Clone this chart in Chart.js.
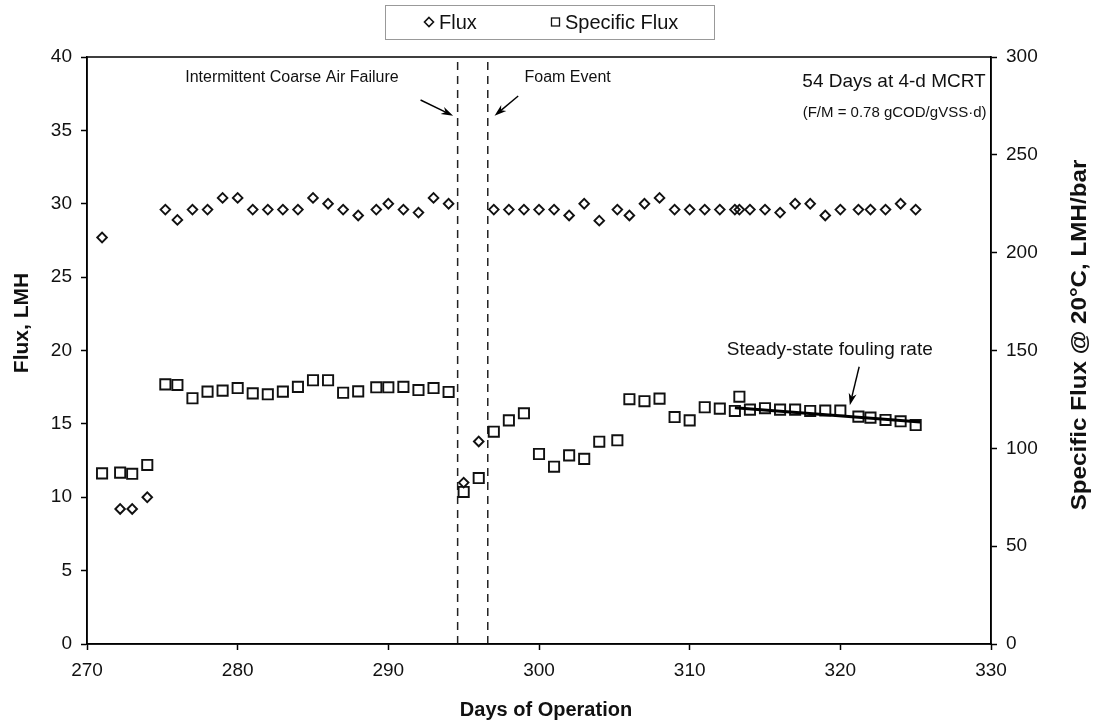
<!DOCTYPE html>
<html>
<head>
<meta charset="utf-8">
<script src="https://cdn.jsdelivr.net/npm/chart.js@4/dist/chart.umd.min.js"></script>
<style>
  html, body { margin: 0; padding: 0; background: #fff; }
  #wrap { width: 1099px; height: 726px; }
</style>
</head>
<body>
<div id="wrap"><canvas id="chart" width="1099" height="726"></canvas></div>
<script>
// days of operation (shared by both series)
const days = [271, 272.2, 273, 274, 275.2, 276, 277, 278, 279, 280, 281, 282, 283, 284, 285, 286, 287, 288, 289.2, 290,
  291, 292, 293, 294, 295, 296, 297, 298, 299, 300, 301, 302, 303, 304, 305.2, 306, 307, 308, 309, 310,
  311, 312, 313, 313.3, 314, 315, 316, 317, 318, 319, 320, 321.2, 322, 323, 324, 325];

// Flux, LMH (left axis)
const fluxLMH = [27.7, 9.2, 9.2, 10.0, 29.6, 28.9, 29.6, 29.6, 30.4, 30.4, 29.6, 29.6, 29.6, 29.6, 30.4, 30.0, 29.6, 29.2, 29.6, 30.0,
  29.6, 29.4, 30.4, 30.0, 11.0, 13.8, 29.6, 29.6, 29.6, 29.6, 29.6, 29.2, 30.0, 28.85, 29.6, 29.2, 30.0, 30.4, 29.6, 29.6,
  29.6, 29.6, 29.6, 29.6, 29.6, 29.6, 29.4, 30.0, 30.0, 29.2, 29.6, 29.6, 29.6, 29.6, 30.0, 29.6];

// Specific flux @ 20C, LMH/bar (right axis)
const specificFlux = [87.2, 87.6, 87.0, 91.5, 132.7, 132.4, 125.6, 129.0, 129.5, 130.8, 128.1, 127.6, 129.0, 131.4, 134.8, 134.8, 128.4, 129.1, 131.2, 131.2,
  131.4, 129.8, 130.8, 128.8, 77.7, 84.8, 108.5, 114.3, 117.9, 97.1, 90.6, 96.4, 94.6, 103.4, 104.1, 125.1, 124.1, 125.4, 116.0, 114.3,
  121.0, 120.3, 119.1, 126.4, 119.8, 120.5, 119.8, 119.8, 119.1, 119.3, 119.3, 116.2, 115.7, 114.5, 113.8, 111.9];

// steady-state fouling rate trend (right axis)
const trendDays = [313, 325.3];
const trendSpecific = [120.8, 113.5];

// event markers (dashed verticals)
const eventDays = [294.6, 296.6];

// axis ranges
const xRange = [270, 330, 10];
const fluxRange = [0, 40, 5];
const specRange = [0, 300, 50];

const ink = '#111';
const font = '"Liberation Sans", Arial, sans-serif';

const toPts = (xs, ys) => xs.map((x, i) => ({ x: x, y: ys[i] }));

// annotations in data coordinates
const notes = [
  { text: 'Intermittent Coarse Air Failure', x: 283.6, y: 38.57, axis: 'y', size: 16, align: 'center' },
  { text: 'Foam Event', x: 301.9, y: 38.57, axis: 'y', size: 16, align: 'center' },
  { text: '54 Days at 4-d MCRT', x: 329.65, y: 38.32, axis: 'y', size: 19, align: 'right' },
  { text: '(F/M = 0.78 gCOD/gVSS\u00b7d)', x: 329.7, y: 36.17, axis: 'y', size: 15, align: 'right' },
  { text: 'Steady-state fouling rate', x: 319.3, y: 150.4, axis: 'y2', size: 19, align: 'center' }
];
const arrows = [
  { from: [292.14, 37.07], to: [294.3, 36.0], axis: 'y' },
  { from: [298.62, 37.34], to: [297.05, 36.0], axis: 'y' },
  { from: [321.25, 141.7], to: [320.63, 122.0], axis: 'y2' }
];

function drawArrow(ctx, x1, y1, x2, y2) {
  const ang = Math.atan2(y2 - y1, x2 - x1);
  const len = 12, half = 4;
  const c = Math.cos(ang), s = Math.sin(ang);
  ctx.beginPath();
  ctx.moveTo(x1, y1);
  ctx.lineTo(x2 - c * len * 0.6, y2 - s * len * 0.6);
  ctx.stroke();
  ctx.beginPath();
  ctx.moveTo(x2, y2);
  ctx.lineTo(x2 - c * len - s * half, y2 - s * len + c * half);
  ctx.lineTo(x2 - c * len * 0.7, y2 - s * len * 0.7);
  ctx.lineTo(x2 - c * len + s * half, y2 - s * len - c * half);
  ctx.closePath();
  ctx.fill();
}

const overlay = {
  id: 'overlay',
  afterDraw(chart) {
    const { ctx, chartArea: a, scales } = chart;
    ctx.save();
    ctx.strokeStyle = '#000';
    ctx.fillStyle = '#000';
    ctx.lineWidth = 1.5;
    ctx.strokeRect(a.left, a.top, a.right - a.left, a.bottom - a.top);

    // notes
    ctx.textBaseline = 'middle';
    notes.forEach(n => {
      ctx.font = n.size + 'px ' + font;
      ctx.textAlign = n.align;
      ctx.fillStyle = '#111';
      ctx.fillText(n.text, scales.x.getPixelForValue(n.x), scales[n.axis].getPixelForValue(n.y));
    });

    // arrows
    ctx.lineWidth = 1.4;
    ctx.fillStyle = '#000';
    arrows.forEach(r => {
      const ys = scales[r.axis];
      drawArrow(ctx, scales.x.getPixelForValue(r.from[0]), ys.getPixelForValue(r.from[1]),
        scales.x.getPixelForValue(r.to[0]), ys.getPixelForValue(r.to[1]));
    });

    // legend
    ctx.lineWidth = 1;
    ctx.strokeStyle = '#999';
    ctx.strokeRect(385.5, 5.5, 329, 34);
    ctx.strokeStyle = ink;
    ctx.lineWidth = 1.6;
    ctx.beginPath();
    ctx.moveTo(429, 17.5); ctx.lineTo(433.5, 22); ctx.lineTo(429, 26.5); ctx.lineTo(424.5, 22); ctx.closePath();
    ctx.stroke();
    ctx.lineWidth = 1.3;
    ctx.strokeRect(551.5, 18, 8, 8);
    ctx.font = '20px ' + font;
    ctx.fillStyle = '#111';
    ctx.textAlign = 'left';
    ctx.fillText('Flux', 439, 23);
    ctx.fillText('Specific Flux', 565, 23);

    // axis titles
    ctx.font = 'bold 20px ' + font;
    ctx.textAlign = 'center';
    ctx.fillText('Days of Operation', 546, 710);
    ctx.save();
    ctx.translate(22, 323);
    ctx.rotate(-Math.PI / 2);
    ctx.font = 'bold 21px ' + font;
    ctx.fillText('Flux, LMH', 0, 0);
    ctx.restore();
    ctx.save();
    ctx.translate(1080, 335);
    ctx.rotate(-Math.PI / 2);
    ctx.scale(1.1, 1);
    ctx.font = 'bold 22px ' + font;
    ctx.fillText('Specific Flux @ 20\u00b0C, LMH/bar', 0, 0);
    ctx.restore();
    ctx.restore();
  }
};

const tickFont = { family: font, size: 19 };
const axisLook = {
  grid: { display: true, drawOnChartArea: false, drawTicks: true, tickLength: 6, tickColor: '#000', tickWidth: 1.5 },
  border: { display: true, color: '#000', width: 1.5 }
};

const datasets = [
  {
    label: 'trend', data: toPts(trendDays, trendSpecific), yAxisID: 'y2',
    showLine: true, borderColor: '#000', borderWidth: 3, pointRadius: 0
  },
  {
    label: 'Flux', data: toPts(days, fluxLMH), yAxisID: 'y',
    pointStyle: 'rectRot', pointRadius: 4.8, borderWidth: 1.9,
    borderColor: ink, backgroundColor: 'rgba(255,255,255,0)'
  },
  {
    label: 'Specific Flux', data: toPts(days, specificFlux), yAxisID: 'y2',
    pointStyle: 'rect', pointRadius: 7.2, borderWidth: 1.9,
    borderColor: ink, backgroundColor: 'rgba(255,255,255,0)'
  }
];
eventDays.forEach(d => {
  datasets.push({
    label: 'event', data: toPts([d, d], [fluxRange[0], fluxRange[1]]), yAxisID: 'y',
    showLine: true, borderColor: '#222', borderWidth: 1.5, borderDash: [8, 6], pointRadius: 0
  });
});

new Chart(document.getElementById('chart').getContext('2d'), {
  type: 'scatter',
  data: { datasets: datasets },
  options: {
    responsive: false,
    animation: false,
    devicePixelRatio: 1,
    layout: { padding: { top: 57, left: 0, right: 0, bottom: 0 } },
    plugins: { legend: { display: false }, tooltip: { enabled: false } },
    scales: {
      x: {
        type: 'linear', position: 'bottom', min: xRange[0], max: xRange[1],
        ticks: { stepSize: xRange[2], font: tickFont, color: '#111', padding: 9, maxRotation: 0 },
        afterFit: s => { s.height = 82; },
        ...axisLook
      },
      y: {
        type: 'linear', position: 'left', min: fluxRange[0], max: fluxRange[1],
        ticks: { stepSize: fluxRange[2], font: tickFont, color: '#111', padding: 9 },
        afterFit: s => { s.width = 87; },
        ...axisLook
      },
      y2: {
        type: 'linear', position: 'right', min: specRange[0], max: specRange[1],
        ticks: { stepSize: specRange[2], font: tickFont, color: '#111', padding: 9 },
        afterFit: s => { s.width = 108; },
        ...axisLook
      }
    }
  },
  plugins: [overlay]
});
</script>
</body>
</html>
